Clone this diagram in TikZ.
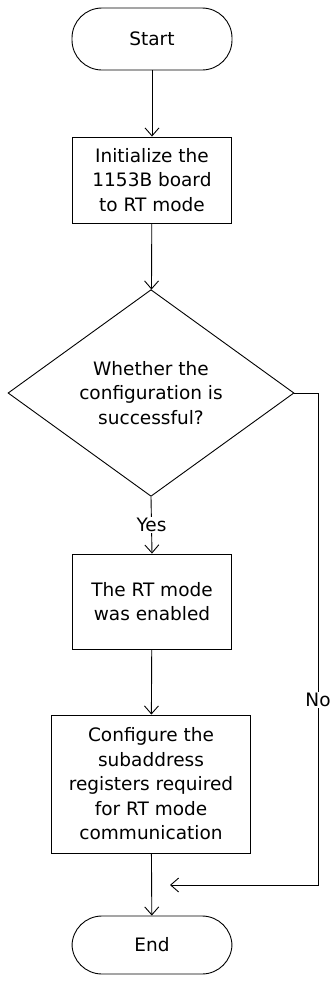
\documentclass[tikz,border=0pt]{standalone}
\usepackage{fontspec}
\setmainfont{DejaVu Sans}
\usetikzlibrary{shapes.geometric,arrows.meta}

\tikzset{
  base/.style={draw=black, line width=0.9pt, align=center, inner sep=0pt,
    font=\fontsize{18.5}{24.5}\selectfont},
  terminal/.style={base, rounded corners=30pt, minimum width=160pt, minimum height=62pt},
  process/.style={base, rectangle, minimum width=159pt},
  decision/.style={base, diamond, minimum width=286pt, minimum height=190pt},
  flow/.style={draw=black, line width=0.9pt, -{Straight Barb[length=8pt,width=14pt]}},
  edgelabel/.style={fill=white, inner sep=1pt, font=\fontsize{18.5}{22}\selectfont}
}

\begin{document}
\begin{tikzpicture}[x=1pt, y=-1pt]
  \useasboundingbox (0,0) rectangle (332,983);

  % main column of steps
  \node[terminal] (start) at (152,39) {Start};
  \node[process, minimum height=86pt] (init) at (152,180)
    {Initialize the\\1153B board\\to RT mode};
  \node[decision] (check) at (151,393)
    {Whether the\\configuration is\\successful?};
  \node[process, minimum height=95pt] (enable) at (152,601.5)
    {The RT mode\\was enabled};
  \node[process, minimum width=199pt, minimum height=138pt] (config) at (151,784)
    {Configure the\\subaddress\\registers required\\for RT mode\\communication};
  \node[terminal, minimum height=58pt] (finish) at (152,945)
    {End};

  % connectors
  \draw[flow] (start) -- (init);
  \draw[flow] (init) -- (check);
  \draw[flow] (check.south) -- (enable.north)
    node[edgelabel, pos=0.5] (yes) {Yes};
  \draw[flow] (enable) -- (config);
  \draw[flow] (config) -- (finish);

  % failure branch back to the end
  \coordinate (corner) at (318,393);
  \coordinate (merge) at (170,885);
  \draw[flow] (check.east) -- (corner) |- (merge)
    node[edgelabel, pos=0.312] (no) {No};
\end{tikzpicture}
\end{document}
